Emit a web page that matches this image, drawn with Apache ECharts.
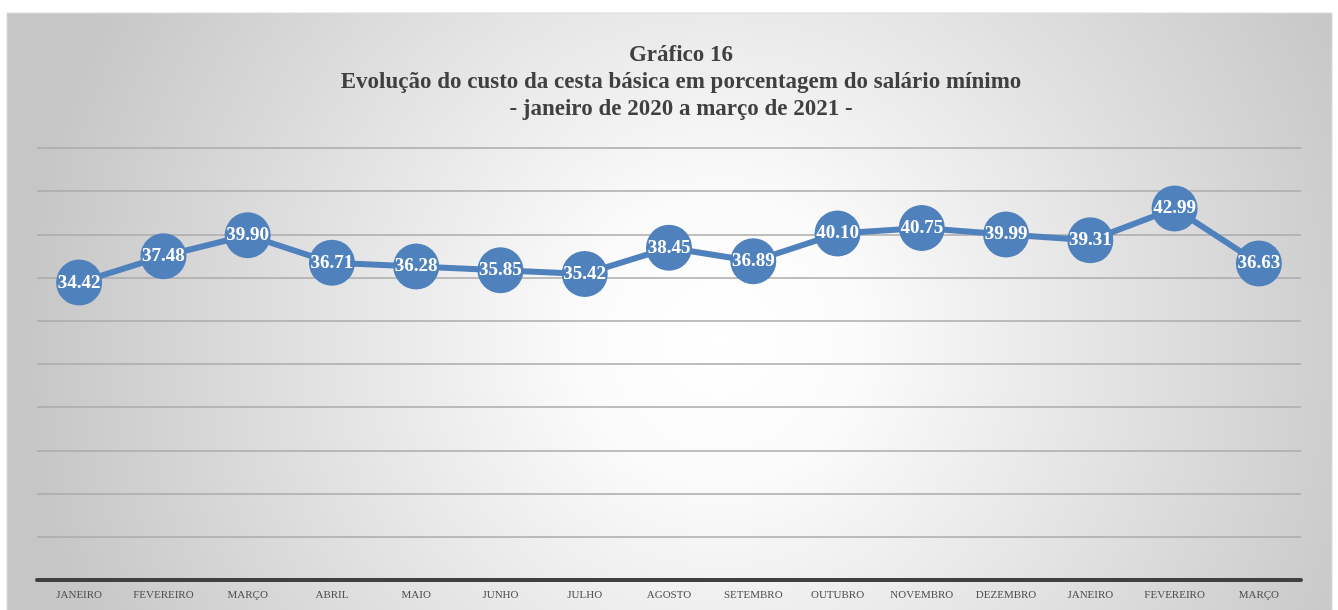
<!DOCTYPE html>
<html>
<head>
<meta charset="utf-8">
<script src="https://cdn.jsdelivr.net/npm/echarts@6/dist/echarts.min.js"></script>
<style>
  html, body { margin: 0; padding: 0; background: #fff; }
  #chart { width: 1338px; height: 610px; }
</style>
</head>
<body>
<div id="chart"></div>
<script>
var meses = ['JANEIRO', 'FEVEREIRO', 'MARÇO', 'ABRIL', 'MAIO', 'JUNHO', 'JULHO', 'AGOSTO',
  'SETEMBRO', 'OUTUBRO', 'NOVEMBRO', 'DEZEMBRO', 'JANEIRO', 'FEVEREIRO', 'MARÇO']
var porcentagem = [34.42, 37.48, 39.90, 36.71, 36.28, 35.85, 35.42, 38.45,
  36.89, 40.10, 40.75, 39.99, 39.31, 42.99, 36.63]

var fonte = '"Liberation Serif", "DejaVu Serif", serif'
var myChart = echarts.init(document.getElementById('chart'))

var option = {
  backgroundColor: '#ffffff',
  graphic: [{
    type: 'rect',
    z: -10,
    silent: true,
    shape: { x: 7, y: 13, width: 1325, height: 600 },
    style: {
      // fundo com gradiente radial (centro claro, bordas cinza)
      fill: new echarts.graphic.RadialGradient(720, 340, 700, [
        { offset: 0, color: '#ffffff' },
        { offset: 0.2, color: '#fbfbfb' },
        { offset: 1, color: '#c6c6c6' }
      ], true),
      stroke: '#d9d9d9',
      lineWidth: 1
    }
  }],
  title: {
    text: 'Gráfico 16\nEvolução do custo da cesta básica em porcentagem do salário mínimo\n- janeiro de 2020 a março de 2021 -',
    left: 676,
    top: 37,
    textAlign: 'center',
    textStyle: {
      fontFamily: fonte,
      fontWeight: 'bold',
      fontSize: 23,
      lineHeight: 27,
      color: '#404040'
    }
  },
  grid: {
    left: 37,
    right: 37,
    top: 148,
    bottom: 30,
    containLabel: false
  },
  xAxis: {
    type: 'category',
    data: meses,
    boundaryGap: true,
    axisLine: { lineStyle: { color: '#404040', width: 4 } },
    axisTick: { show: false },
    axisLabel: {
      interval: 0,
      margin: 10,
      fontFamily: fonte,
      fontSize: 11,
      color: '#505050'
    }
  },
  yAxis: {
    type: 'value',
    min: 0,
    max: 50,
    interval: 5,
    axisLabel: { show: false },
    axisLine: { show: false },
    axisTick: { show: false },
    splitLine: { lineStyle: { color: '#aaaaaa', width: 1.5 } }
  },
  series: [{
    name: 'Porcentagem',
    type: 'line',
    data: porcentagem,
    symbol: 'circle',
    symbolSize: 46,
    itemStyle: { color: '#4f81bd' },
    lineStyle: { color: '#4f81bd', width: 6 },
    label: {
      show: true,
      position: 'inside',
      formatter: function(p) { return p.value.toFixed(2) },
      fontFamily: fonte,
      fontWeight: 'bold',
      fontSize: 19,
      color: '#ffffff'
    },
    animation: false
  }]
}

myChart.setOption(option)
window.addEventListener('resize', () => { myChart.resize() })
</script>
</body>
</html>
